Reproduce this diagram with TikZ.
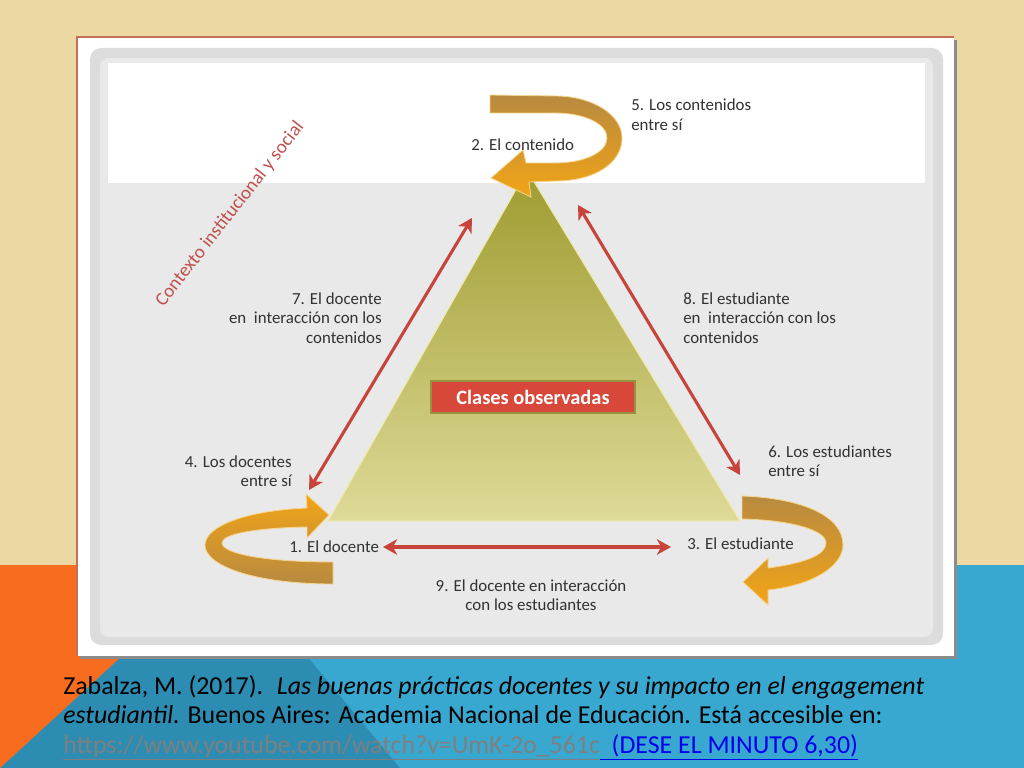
\documentclass[tikz,border=0pt]{standalone}
\usepackage{fontspec}
\setmainfont{Carlito}
\usetikzlibrary{arrows.meta}
\definecolor{wall beige}{RGB}{236, 216, 162}
\definecolor{slide orange}{RGB}{247, 108, 30}
\definecolor{dark teal}{RGB}{44, 140, 178}
\definecolor{light teal}{RGB}{56, 168, 208}
\definecolor{frame red}{RGB}{196, 112, 88}
\definecolor{frame shadow}{RGB}{140, 140, 140}
\definecolor{panel gray}{RGB}{220, 220, 220}
\definecolor{panel light}{RGB}{233, 233, 233}
\definecolor{olive top}{RGB}{158, 156, 48}
\definecolor{olive bottom}{RGB}{222, 218, 152}
\definecolor{olive edge}{RGB}{238, 234, 176}
\definecolor{box red}{RGB}{216, 72, 58}
\definecolor{box edge}{RGB}{150, 146, 64}
\definecolor{arrow red}{RGB}{200, 68, 58}
\definecolor{gold bright}{RGB}{242, 164, 22}
\definecolor{gold dark}{RGB}{184, 138, 64}
\definecolor{gold rim}{RGB}{245, 212, 140}
\definecolor{label gray}{RGB}{50, 50, 50}
\definecolor{context red}{RGB}{192, 80, 77}
\definecolor{link gray}{RGB}{127, 127, 127}
\definecolor{link blue}{RGB}{0, 0, 238}

\begin{document}
\begin{tikzpicture}[
        x=0.025cm, y=-0.025cm,
        textlabel/.style={
            font=\fontsize{12}{14}\selectfont,
            text=label gray,
            inner sep=0pt
        },
        relation/.style={
            draw=arrow red,
            line width=2.2pt,
            {Stealth[length=10pt,width=11pt,inset=3pt]}-{Stealth[length=10pt,width=11pt,inset=3pt]}
        },
        turn/.style={
            draw=gold rim,
            line width=0.6pt
        },
        citation/.style={
            font=\fontsize{18.4}{21}\selectfont,
            text=black,
            inner sep=0pt,
            align=left
        }
    ]
    \useasboundingbox (0,0) rectangle (1024,768);

    % slide background
    \fill[wall beige] (0,0) rectangle (1024,565);
    \fill[light teal] (0,565) rectangle (1024,768);
    \fill[dark teal] (221,565) -- (231,565) -- (400,768) -- (0,768) -- cycle;
    \fill[slide orange] (0,565) -- (221,565) -- (0,768) -- cycle;

    % picture frame
    \fill[frame shadow] (80,40) rectangle (957,659);
    \fill[white] (77,37) rectangle (954,656);
    \draw[frame red, line width=1pt] (77,656) -- (77,37) -- (954,37);
    \fill[panel gray, rounded corners=8pt] (90,48) rectangle (943,645);
    \fill[panel light, rounded corners=6pt] (100,58) rectangle (933,637);
    \fill[white] (108,63) rectangle (925,183);

    % triangle
    \coordinate (apex) at (527,170);
    \coordinate (base left) at (328,521);
    \coordinate (base right) at (740,521);
    \shade[top color=olive top, bottom color=olive bottom, draw=olive edge, line width=0.8pt]
        (apex) -- (base right) -- (base left) -- cycle;

    \node[fill=box red, draw=box edge, line width=1.5pt, minimum width=5.1cm, minimum height=0.78cm,
          text=white, font=\bfseries\fontsize{14.5}{16}\selectfont] (clases) at (533,397) {Clases observadas};

    % relations between the corners
    \coordinate (left up) at (472,218);
    \coordinate (left down) at (309,490);
    \coordinate (right up) at (578,205);
    \coordinate (right down) at (740,475);
    \coordinate (bottom left) at (383,547);
    \coordinate (bottom right) at (671,547);
    \draw[relation] (left up) -- (left down);
    \draw[relation] (right up) -- (right down);
    \draw[relation] (bottom left) -- (bottom right);

    % turning arrows
    \shade[turn, top color=gold dark, bottom color=gold bright]
        (490,95) -- (555,96) .. controls (593,96) and (622,115) .. (622,138)
        .. controls (622,163) and (595,181) .. (555,181) -- (529,182) -- (531,197) -- (491,178)
        -- (523,150) -- (526,163) -- (555,163) .. controls (585,163) and (607,152) .. (607,138)
        .. controls (607,124) and (585,113) .. (555,113) -- (490,113) -- cycle;
    \shade[turn, top color=gold bright, bottom color=gold dark]
        (329,515) -- (306,494) -- (307,508) .. controls (240,511) and (205,528) .. (205,545)
        .. controls (205,566) and (255,584) .. (333,584) -- (333,562)
        .. controls (262,562) and (222,553) .. (222,543)
        .. controls (222,534) and (255,528) .. (307,527) -- (307,538) -- cycle;
    \shade[turn, top color=gold dark, bottom color=gold bright]
        (742,496) .. controls (800,498) and (843,515) .. (843,545)
        .. controls (843,565) and (815,585) .. (768,590) -- (768,605) -- (743,582)
        -- (768,558) -- (768,568) .. controls (805,563) and (826,555) .. (826,543)
        .. controls (826,530) and (790,520) .. (742,519) -- cycle;

    % texts
    \node[textlabel, anchor=north west, align=left] (five) at (631,99) {5. Los contenidos\\entre sí};
    \node[textlabel, anchor=north west] (two) at (471,139) {2. El contenido};
    \node[textlabel, anchor=north east, align=right] (seven) at (382,292) {7. El docente\\en \ interacción con los\\contenidos};
    \node[textlabel, anchor=north west, align=left] (eight) at (683,292) {8. El estudiante\\en \ interacción con los\\contenidos};
    \node[textlabel, anchor=north east, align=right] (four) at (292,455) {4. Los docentes\\entre sí};
    \node[textlabel, anchor=north west, align=left] (six) at (768,445) {6. Los estudiantes\\entre sí};
    \node[textlabel, anchor=north west] (one) at (289,540) {1. El docente};
    \node[textlabel, anchor=north west] (three) at (687,537) {3. El estudiante};
    \node[textlabel, anchor=north, align=center] (nine) at (531,579) {9. El docente en interacción\\con los estudiantes};
    \node[font=\fontsize{13.5}{15}\selectfont, text=context red, rotate=52] (context) at (230,214) {Contexto institucional y social};

    \node[citation, anchor=north west] (cite) at (63,675)
        {Zabalza, M. (2017). \ \textit{Las buenas prácticas docentes y su impacto en el engagement}\\
         \textit{estudiantil.} Buenos Aires: Academia Nacional de Educación. Está accesible en:\\
         \textcolor{link gray}{\underline{https://www.youtube.com/watch?v=UmK-2o\_561c}}\textcolor{link blue}{\underline{\ \ (DESE EL MINUTO 6,30)}}};
\end{tikzpicture}
\end{document}
